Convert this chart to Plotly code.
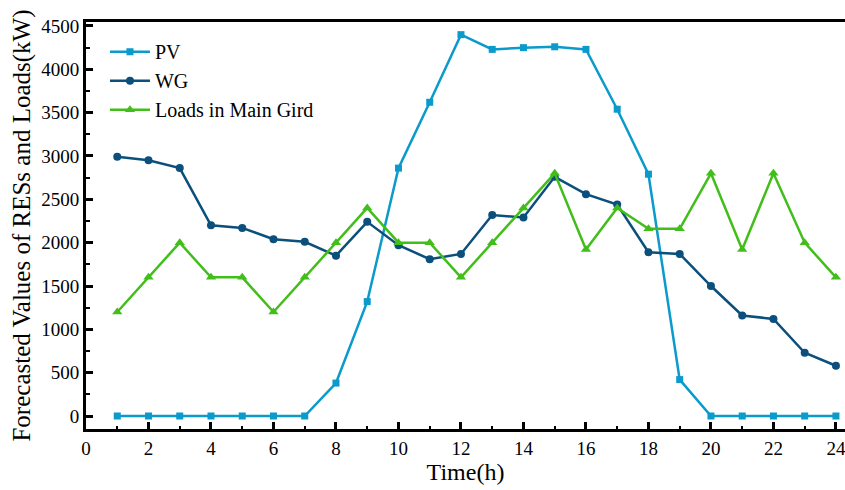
import plotly.graph_objects as go

hours = list(range(1, 25))
pv = [0, 0, 0, 0, 0, 0, 0, 380, 1320, 2860, 3620, 4400, 4230, 4250, 4260, 4230,
      3540, 2790, 420, 0, 0, 0, 0, 0]
wg = [2990, 2950, 2860, 2200, 2170, 2040, 2010, 1850, 2240, 1970, 1810, 1870,
      2320, 2290, 2760, 2560, 2440, 1890, 1870, 1500, 1160, 1120, 730, 580]
loads = [1200, 1600, 2000, 1600, 1600, 1200, 1600, 2000, 2400, 2000, 2000, 1600,
         2000, 2400, 2800, 1920, 2400, 2160, 2160, 2800, 1920, 2800, 2000, 1600]

series_names = ["PV", "WG", "Loads in Main Gird"]
x_ticks = list(range(0, 25, 2))
y_ticks = list(range(0, 4501, 500))

fig = go.Figure()
fig.add_trace(go.Scatter(x=hours, y=pv, name=series_names[0], mode="lines+markers",
                         line=dict(color="#0a9acb", width=2.5),
                         marker=dict(symbol="square", size=7, color="#0a9acb")))
fig.add_trace(go.Scatter(x=hours, y=wg, name=series_names[1], mode="lines+markers",
                         line=dict(color="#0b4f7c", width=2.5),
                         marker=dict(symbol="circle", size=8, color="#0b4f7c")))
fig.add_trace(go.Scatter(x=hours, y=loads, name=series_names[2], mode="lines+markers",
                         line=dict(color="#41be19", width=2.5),
                         marker=dict(symbol="triangle-up", size=9, color="#41be19")))

font = "Liberation Serif"
fig.update_layout(
    width=845, height=490,
    margin=dict(l=86, r=0, t=22, b=61),
    paper_bgcolor="white", plot_bgcolor="white",
    font=dict(family=font, color="black", size=19),
    showlegend=True,
    legend=dict(x=0.025, y=0.975, xanchor="left", yanchor="top",
                bgcolor="rgba(0,0,0,0)", font=dict(size=20, family=font, color="black"),
                tracegroupgap=0, itemwidth=40),
    xaxis=dict(range=[0, 24.29], tickvals=x_ticks, ticktext=[str(v) for v in x_ticks],
               ticks="inside", ticklen=7, tickwidth=2.5, tickcolor="black",
               showline=True, linecolor="black", linewidth=3, mirror=True,
               showgrid=False, zeroline=False, ticklabeloverflow="allow",
               minor=dict(ticks="inside", ticklen=3, tickwidth=2, dtick=1, tick0=0,
                          tickcolor="black", showgrid=False),
               title=dict(text="Time(h)", font=dict(size=24, family=font, color="black"),
                          standoff=4),
               tickfont=dict(size=19, family=font, color="black")),
    yaxis=dict(range=[-150, 4546], tickvals=y_ticks, ticktext=[str(v) for v in y_ticks],
               ticks="inside", ticklen=7, tickwidth=2.5, tickcolor="black",
               showline=True, linecolor="black", linewidth=3, mirror=False,
               showgrid=False, zeroline=False,
               minor=dict(ticks="inside", ticklen=4, tickwidth=2, dtick=250, tick0=0,
                          tickcolor="black", showgrid=False),
               title=dict(text="Forecasted Values of RESs and Loads(kW)",
                          font=dict(size=25, family=font, color="black"), standoff=4),
               tickfont=dict(size=19, family=font, color="black")),
)

# remove the default 8px page margin so the 845x490 figure fills the window exactly
fig.write_html("out.html", config={"displayModeBar": False},
               post_script="document.body.style.margin='0';document.body.style.overflow='hidden';")
